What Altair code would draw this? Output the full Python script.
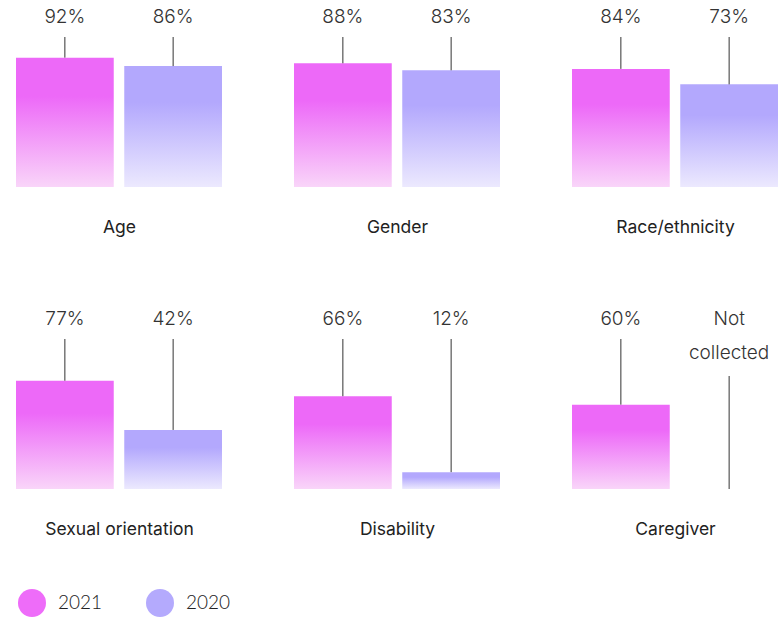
import altair as alt
import pandas as pd

categories = ["Age", "Gender", "Race/ethnicity", "Sexual orientation", "Disability", "Caregiver"]
values_2021 = [92, 88, 84, 77, 66, 60]
values_2020 = [86, 83, 73, 42, 12, None]
years = ["2021", "2020"]
legend_colors = ["#EE6CF9", "#B4AAFD"]

rows = []
for cat, a, b in zip(categories, values_2021, values_2020):
    for yr, v in zip(years, [a, b]):
        rows.append({
            "category": cat,
            "year": yr,
            "value": v,
            "label": f"{v}%" if v is not None else "Not\ncollected",
        })
df = pd.DataFrame(rows)


def grad(top, bottom):
    return alt.LinearGradient(
        gradient="linear", x1=0, y1=0, x2=0, y2=1,
        stops=[alt.GradientStop(color=top, offset=0),
               alt.GradientStop(color=top, offset=0.3),
               alt.GradientStop(color=bottom, offset=1)],
    )


pink = grad("#ED69F8", "#F9D5F9")
purple = grad("#B3A8FD", "#ECE9FE")

FONT = "Inter"
yscale = alt.Scale(domain=[0, 128])


def panel(cat):
    d = df[df["category"] == cat]
    base = alt.Chart(d).encode(
        x=alt.X(
            "year:N",
            sort=years,
            scale=alt.Scale(domain=years, paddingInner=0.097, paddingOuter=0),
            axis=alt.Axis(
                title=cat, labels=False, ticks=False, domain=False, grid=False,
                titlePadding=31, titleFontSize=17.5, titleFont=FONT,
                titleFontWeight="normal", titleColor="#222222",
            ),
        )
    )
    bar_2021 = base.transform_filter("datum.year == '2021' && isValid(datum.value)").mark_bar(
        color=pink).encode(y=alt.Y("value:Q", scale=yscale, axis=None))
    bar_2020 = base.transform_filter("datum.year == '2020' && isValid(datum.value)").mark_bar(
        color=purple).encode(y=alt.Y("value:Q", scale=yscale, axis=None))
    legend_layer = base.mark_point(filled=True, opacity=0, size=1).encode(
        y=alt.Y("value:Q", scale=yscale, axis=None),
        color=alt.Color(
            "year:N",
            sort=years,
            scale=alt.Scale(domain=years, range=legend_colors),
            legend=alt.Legend(
                title=None, orient="none", legendX=2, legendY=582,
                direction="horizontal", symbolType="circle", symbolSize=784,
                symbolOpacity=1, symbolStrokeWidth=0, labelFontSize=19,
                labelFont="Lato", labelFontWeight=300, labelColor="#222222",
                labelOffset=12, columnPadding=43,
            ),
        ),
    )
    rule_valid = base.transform_filter("isValid(datum.value)").mark_rule(
        color="#333333", strokeWidth=1).encode(
        y=alt.Y("value:Q", scale=yscale, axis=None), y2=alt.value(30))
    rule_missing = base.transform_filter("!isValid(datum.value)").transform_calculate(
        zero="0").mark_rule(color="#333333", strokeWidth=1).encode(
        y=alt.Y("zero:Q", scale=yscale, axis=None), y2=alt.value(67))
    labels = base.mark_text(
        baseline="top", align="center", fontSize=19, font=FONT, fontWeight=300,
        color="#333333", lineBreak="\n", lineHeight=34,
    ).encode(y=alt.value(1), text="label:N")
    return alt.layer(bar_2021, bar_2020, legend_layer, rule_valid, rule_missing, labels).properties(
        width=206, height=180)


row1 = alt.hconcat(*[panel(c) for c in categories[:3]], spacing=72)
row2 = alt.hconcat(*[panel(c) for c in categories[3:]], spacing=72)
chart = alt.vconcat(row1, row2, spacing=73).resolve_scale(color="shared").properties(
    padding={"left": 16, "top": 7, "right": 0, "bottom": 0}
).configure_view(stroke=None)

chart.save("out.html", embed_options={"renderer": "svg", "actions": False})
